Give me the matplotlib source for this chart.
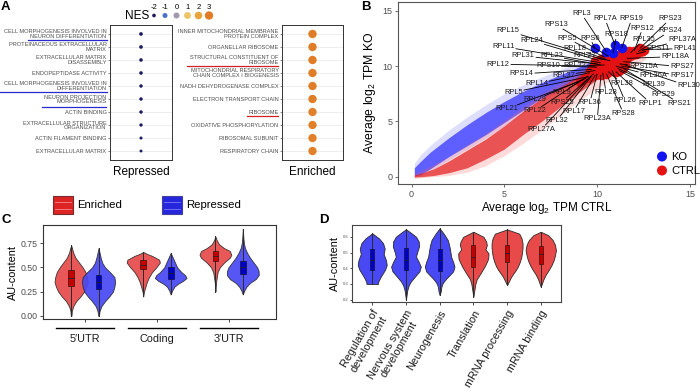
import numpy as np
import matplotlib
matplotlib.use('Agg')
import matplotlib.pyplot as plt
import matplotlib.transforms as mtransforms
from matplotlib.colors import LinearSegmentedColormap
from matplotlib.patches import Rectangle

plt.rcParams['font.family'] = ['Liberation Sans', 'DejaVu Sans']
plt.rcParams['mathtext.fontset'] = 'custom'
plt.rcParams['mathtext.rm'] = 'Liberation Sans'
plt.rcParams['mathtext.it'] = 'Liberation Sans:italic'
plt.rcParams['mathtext.bf'] = 'Liberation Sans:bold'

# ---------------- DATA ----------------
# Panel A
rep_terms = ["CELL MORPHOGENESIS INVOLVED IN\nNEURON DIFFERENTIATION",
             "PROTEINACEOUS EXTRACELLULAR\nMATRIX",
             "EXTRACELLULAR MATRIX\nDISASSEMBLY",
             "ENDOPEPTIDASE ACTIVITY",
             "CELL MORPHOGENESIS INVOLVED IN\nDIFFERENTIATION",
             "NEURON PROJECTION\nMORPHOGENESIS",
             "ACTIN BINDING",
             "EXTRACELLULAR STRUCTURE\nORGANIZATION",
             "ACTIN FILAMENT BINDING",
             "EXTRACELLULAR MATRIX"]
rep_nes = [-2.0, -2.0, -2.05, -2.05, -2.1, -2.1, -2.1, -2.15, -2.3, -2.35]
enr_terms = ["INNER MITOCHONDRIAL MEMBRANE\nPROTEIN COMPLEX",
             "ORGANELLAR RIBOSOME",
             "STRUCTURAL CONSTITUENT OF\nRIBOSOME",
             "MITOCHONDRIAL RESPIRATORY\nCHAIN COMPLEX I BIOGENESIS",
             "NADH DEHYDROGENASE COMPLEX",
             "ELECTRON TRANSPORT CHAIN",
             "RIBOSOME",
             "OXIDATIVE PHOSPHORYLATION",
             "RIBOSOMAL SUBUNIT",
             "RESPIRATORY CHAIN"]
enr_nes = [3.0, 3.0, 3.0, 2.95, 2.95, 2.95, 2.9, 2.9, 2.9, 2.9]
nes_legend = [-2, -1, 0, 1, 2, 3]
nes_colors = ['#1d1d5e', '#4a70c8', '#a29aaa', '#edc463', '#eaa43c', '#e07c26']

# Panel B: density bands of the scatter clouds
ko_x       = [0.15, 0.5, 1.0, 2.0, 3.0, 4.0, 5.0, 6.0, 7.0, 8.0, 9.0, 10.0, 10.6]
ko_core_lo = [0.05, 0.2, 0.7, 1.8, 2.8, 3.8, 4.9, 6.0, 7.1, 8.0, 8.9, 9.7, 10.2]
ko_core_hi = [0.8, 1.4, 2.2, 3.5, 4.7, 5.8, 6.8, 7.7, 8.5, 9.2, 9.9, 10.6, 10.9]
ko_halo_lo = [0.0, 0.1, 0.5, 1.5, 2.5, 3.5, 4.6, 5.7, 6.8, 7.8, 8.7, 9.5, 10.0]
ko_halo_hi = [1.2, 2.0, 2.8, 4.2, 5.4, 6.5, 7.5, 8.3, 9.0, 9.7, 10.3, 10.9, 11.1]
ct_x       = [0.15, 0.6, 1.2, 2.0, 3.0, 4.0, 5.0, 6.0, 7.0, 8.0, 9.0, 10.0, 11.0, 12.0, 12.6]
ct_core_lo = [-0.05, 0.0, 0.1, 0.35, 0.8, 1.6, 2.5, 3.8, 5.0, 6.3, 7.6, 8.8, 9.8, 10.6, 11.0]
ct_core_hi = [0.15, 0.35, 0.7, 1.4, 2.4, 3.4, 4.6, 5.9, 7.1, 8.1, 9.1, 10.0, 10.7, 11.3, 11.5]
ct_halo_lo = [-0.15, -0.1, 0.0, 0.1, 0.4, 1.0, 1.9, 3.0, 4.2, 5.5, 6.8, 8.0, 9.0, 10.0, 10.6]
ct_halo_hi = [0.3, 0.6, 1.1, 1.8, 2.9, 3.9, 5.1, 6.3, 7.5, 8.5, 9.5, 10.4, 11.0, 11.6, 11.8]

# Panel B: labelled ribosomal genes
genes = ["RPL3", "RPL7A", "RPS19", "RPS18", "RPS6", "RPS23", "RPS13", "RPS12", "RPS24",
         "RPL15", "RPS5", "RPL24", "RPL35", "RPL37A", "RPL11", "RPL18", "RPS11", "RPL41",
         "RPL27", "RPL31", "RPL23", "RPL18A", "RPL12", "RPS10", "RPL22", "RPS27", "RPS15A",
         "RPS14", "RPL37", "RPS17", "RPL36A", "RPL14", "RPL30", "RPL39", "RPL38", "RPL5",
         "RPL9", "RPL28", "RPS29", "RPL29", "RPS25", "RPL36", "RPL26", "RPLP1", "RPS21",
         "RPL21", "RPL22", "RPL17", "RPS28", "RPL32", "RPL23A", "RPL27A"]
gene_group = ["KO"] * 5 + ["CTRL"] * 47
gene_x = [10.5, 10.96, 11.32, 10.85, 9.88, 12.3, 10.6, 12.0, 12.2,
          10.3, 10.4, 10.1, 11.8, 12.4, 10.2, 10.5, 12.1, 12.5,
          10.7, 10.0, 10.2, 11.6, 9.9, 10.0, 10.4, 11.4, 11.2,
          9.7, 9.9, 11.3, 11.0, 9.6, 11.5, 11.1, 10.6, 9.55,
          9.07, 10.3, 11.2, 9.4, 9.8, 10.0, 10.8, 11.0, 11.4,
          9.3, 9.5, 9.9, 10.5, 9.7, 10.2, 9.6]
gene_y = [11.3, 11.92, 11.62, 11.17, 11.62, 11.6, 10.9, 11.4, 11.3,
          10.6, 10.8, 10.5, 11.2, 11.4, 10.3, 10.6, 11.1, 11.5,
          10.5, 10.2, 10.1, 10.7, 10.0, 9.9, 10.1, 10.4, 10.2,
          9.7, 9.6, 10.0, 10.0, 9.4, 10.1, 9.8, 9.5, 9.05,
          8.6, 9.4, 9.6, 8.9, 9.3, 9.3, 9.6, 9.5, 9.8,
          8.8, 9.1, 9.2, 9.3, 9.1, 9.2, 9.0]
label_x = [9.16, 10.42, 11.86, 11.05, 9.61, 13.93, 7.78, 12.45, 13.93,
           5.21, 8.36, 6.47, 12.49, 14.56, 4.94, 8.8, 13.3, 14.73,
           9.34, 6.02, 7.55, 14.2, 4.67, 7.37, 8.8, 14.56, 12.49,
           5.93, 8.18, 14.56, 13.03, 6.74, 14.91, 13.03, 11.32, 5.48,
           8.09, 10.48, 13.57, 6.65, 8.09, 9.61, 11.5, 12.88, 14.43,
           5.12, 6.65, 8.72, 11.41, 7.82, 10.01, 7.0]
label_y = [14.72, 14.27, 14.27, 12.82, 12.52, 14.27, 13.73, 13.42, 13.18,
           13.18, 12.52, 12.31, 12.37, 12.37, 11.76, 11.61, 11.61, 11.58,
           10.92, 10.92, 10.92, 10.86, 10.17, 10.02, 10.02, 9.95, 9.95,
           9.29, 9.17, 9.11, 9.11, 8.39, 8.2, 8.3, 8.45, 7.63,
           7.63, 7.6, 7.39, 6.94, 6.73, 6.73, 6.85, 6.64, 6.64,
           6.12, 5.94, 5.88, 5.73, 5.07, 5.22, 4.28]
# further (unlabelled) ribosomal genes forming the CTRL blob
blob_x = [9.6, 9.8, 10.0, 10.2, 10.4, 10.6, 10.8, 11.0, 11.2, 11.4, 11.6, 11.8, 12.0, 12.2,
          10.3, 10.7, 11.1, 11.5, 9.9, 10.5, 10.9, 11.3, 11.7, 12.1, 9.52, 10.1]
blob_y = [9.6, 9.9, 10.3, 10.6, 10.4, 10.2, 10.5, 10.8, 10.6, 10.9, 11.1, 11.0, 11.3, 11.5,
          9.8, 10.0, 10.3, 10.6, 10.5, 10.7, 10.9, 11.2, 11.4, 11.2, 9.05, 9.5]

# Panel C: violin profiles (AU-content level, half width) per region
c_regions = ["5\u2032UTR", "Coding", "3\u2032UTR"]
c_enr_y = [[0.00, 0.05, 0.10, 0.15, 0.20, 0.25, 0.30, 0.35, 0.40, 0.45, 0.50, 0.55, 0.60, 0.65, 0.70, 0.73],
           [0.20, 0.25, 0.30, 0.35, 0.40, 0.45, 0.50, 0.55, 0.58, 0.62, 0.64, 0.66],
           [0.25, 0.30, 0.35, 0.40, 0.45, 0.50, 0.55, 0.60, 0.63, 0.67, 0.70, 0.74, 0.78, 0.82]]
c_enr_w = [[0.005, 0.01, 0.03, 0.07, 0.13, 0.18, 0.21, 0.23, 0.22, 0.20, 0.16, 0.11, 0.06, 0.03, 0.012, 0.0],
           [0.0, 0.01, 0.03, 0.05, 0.08, 0.12, 0.18, 0.23, 0.22, 0.12, 0.05, 0.0],
           [0.0, 0.005, 0.01, 0.02, 0.03, 0.06, 0.12, 0.20, 0.22, 0.20, 0.12, 0.05, 0.02, 0.0]]
c_rep_y = [[0.00, 0.05, 0.10, 0.15, 0.20, 0.25, 0.30, 0.35, 0.40, 0.45, 0.50, 0.55, 0.60, 0.65, 0.70],
           [0.22, 0.26, 0.30, 0.33, 0.36, 0.39, 0.42, 0.45, 0.50, 0.55, 0.60, 0.65],
           [0.22, 0.26, 0.30, 0.34, 0.38, 0.42, 0.46, 0.50, 0.55, 0.60, 0.65, 0.70, 0.75, 0.80, 0.85, 0.90]]
c_rep_w = [[0.005, 0.015, 0.04, 0.09, 0.15, 0.20, 0.22, 0.23, 0.22, 0.16, 0.09, 0.05, 0.03, 0.015, 0.0],
           [0.0, 0.02, 0.05, 0.10, 0.17, 0.22, 0.20, 0.15, 0.09, 0.06, 0.03, 0.0],
           [0.0, 0.02, 0.05, 0.10, 0.18, 0.22, 0.22, 0.20, 0.15, 0.10, 0.06, 0.03, 0.015, 0.008, 0.004, 0.0]]
c_enr_box = [(0.31, 0.39, 0.47), (0.48, 0.53, 0.58), (0.57, 0.62, 0.67)]
c_rep_box = [(0.28, 0.35, 0.42), (0.38, 0.44, 0.50), (0.43, 0.50, 0.57)]

# Panel D
d_terms = ["Regulation of\ndevelopment", "Nervous system\ndevelopment", "Neurogenesis",
           "Translation", "mRNA processing", "mRNA binding"]
d_group = ["Repressed", "Repressed", "Repressed", "Enriched", "Enriched", "Enriched"]
d_y = [[0.30, 0.315, 0.345, 0.39, 0.42, 0.45, 0.49, 0.525, 0.56, 0.59, 0.622],
       [0.197, 0.23, 0.26, 0.29, 0.314, 0.35, 0.38, 0.41, 0.44, 0.473, 0.50, 0.54, 0.57, 0.60, 0.625, 0.648],
       [0.228, 0.25, 0.28, 0.30, 0.314, 0.335, 0.357, 0.38, 0.41, 0.44, 0.473, 0.516, 0.55, 0.58, 0.62, 0.654],
       [0.217, 0.26, 0.30, 0.33, 0.37, 0.41, 0.44, 0.462, 0.494, 0.52, 0.547, 0.57, 0.60, 0.632],
       [0.292, 0.31, 0.345, 0.37, 0.388, 0.41, 0.441, 0.47, 0.494, 0.53, 0.558, 0.59, 0.62, 0.647],
       [0.281, 0.30, 0.33, 0.36, 0.39, 0.42, 0.45, 0.48, 0.515, 0.55, 0.58, 0.61, 0.632]]
d_w = [[0.17, 0.18, 0.25, 0.38, 0.43, 0.41, 0.34, 0.37, 0.32, 0.20, 0.0],
       [0.0, 0.02, 0.04, 0.08, 0.14, 0.28, 0.40, 0.44, 0.38, 0.30, 0.33, 0.39, 0.38, 0.30, 0.15, 0.0],
       [0.0, 0.03, 0.05, 0.08, 0.12, 0.20, 0.30, 0.40, 0.44, 0.40, 0.34, 0.31, 0.28, 0.24, 0.12, 0.0],
       [0.0, 0.03, 0.06, 0.10, 0.22, 0.33, 0.40, 0.44, 0.45, 0.36, 0.40, 0.38, 0.30, 0.0],
       [0.0, 0.04, 0.12, 0.20, 0.26, 0.32, 0.38, 0.42, 0.44, 0.46, 0.46, 0.43, 0.36, 0.0],
       [0.0, 0.03, 0.08, 0.15, 0.24, 0.32, 0.38, 0.42, 0.45, 0.42, 0.35, 0.22, 0.0]]
d_box = [(0.39, 0.45, 0.52), (0.39, 0.45, 0.53), (0.38, 0.45, 0.52),
         (0.41, 0.47, 0.547), (0.44, 0.50, 0.55), (0.43, 0.49, 0.54)]

# ---------------- STYLE ----------------
RED_V, BLUE_V = '#e84a4a', '#4848f4'
RED_BOX, BLUE_BOX = '#c40000', '#0000c0'
GREY_TXT = '#4d4d4d'
W, H = 700, 392
fig = plt.figure(figsize=(7, 3.92), dpi=100)


def px_axes(x0, y0, x1, y1):
    return fig.add_axes([x0 / W, 1 - y1 / H, (x1 - x0) / W, (y1 - y0) / H])


def style_spines(ax, color='#333333', lw=0.8):
    for s in ax.spines.values():
        s.set_color(color)
        s.set_linewidth(lw)


nes_cmap = LinearSegmentedColormap.from_list(
    'nes', [((v + 2) / 5, c) for v, c in zip(nes_legend, nes_colors)])


def nes_size(v):
    d = np.interp(v, [-2.5, -2, -1, 0, 1, 2, 3], [2.6, 3.7, 5.0, 6.0, 6.8, 7.6, 8.4])
    return (d * 0.72) ** 2


def nes_color(v):
    return nes_cmap((np.asarray(v) + 2) / 5)


# ---------------- PANEL A ----------------
for (x0, x1, terms, nes, xl) in [(110, 172, rep_terms, rep_nes, 'Repressed'),
                                 (282, 343, enr_terms, enr_nes, 'Enriched')]:
    ax = px_axes(x0, 25, x1, 160)
    rows = np.arange(1, len(terms) + 1)
    ax.scatter(np.ones(len(rows)), rows, s=nes_size(nes), c=nes_color(nes),
               linewidths=0, zorder=3)
    ax.set_xlim(0.4, 1.6)
    ax.set_ylim(10.69, 0.31)
    ax.set_yticks(rows)
    ax.set_yticklabels(terms, fontsize=4.1, color=GREY_TXT, linespacing=0.92)
    ax.set_xticks([1])
    ax.set_xticklabels([xl], fontsize=8.5, color='black')
    ax.grid(axis='y', color='#e6e6e6', lw=0.5)
    ax.set_axisbelow(True)
    ax.tick_params(axis='y', length=1.5, width=0.4, color='#333333', pad=1)
    ax.tick_params(axis='x', length=0, pad=4)
    style_spines(ax, '#333333', 0.7)

# ---------------- PANEL B ----------------
axb = px_axes(398, 2, 695, 184)
axb.fill_between(ko_x, ko_halo_lo, ko_halo_hi, color='#6a6aff', alpha=0.22, lw=0, zorder=1)
axb.fill_between(ko_x, ko_core_lo, ko_core_hi, color='#2a2aff', alpha=0.7, lw=0, zorder=1)
axb.fill_between(ct_x, ct_halo_lo, ct_halo_hi, color='#ff5a5a', alpha=0.22, lw=0, zorder=2)
axb.fill_between(ct_x, ct_core_lo, ct_core_hi, color='#e21a1a', alpha=0.7, lw=0, zorder=2)
gx = np.array(gene_x)
gy = np.array(gene_y)
grp = np.array(gene_group)
axb.scatter(blob_x, blob_y, s=48, c='#e41212', linewidths=0, zorder=3)
axb.scatter(gx[grp == 'CTRL'], gy[grp == 'CTRL'], s=48, c='#e41212', linewidths=0, zorder=3)
axb.scatter(gx[grp == 'KO'], gy[grp == 'KO'], s=48, c='#1414f0', linewidths=0, zorder=4)
axb.set_xlim(-0.73, 15.27)
axb.set_ylim(-0.67, 15.8)
label_texts = []
for name, lx, ly in zip(genes, label_x, label_y):
    label_texts.append(axb.text(lx, ly, name, fontsize=5.4, color='#1a1a1a',
                                ha='center', va='center', zorder=6))
axb.set_xticks([0, 5, 10, 15])
axb.set_yticks([0, 5, 10, 15])
axb.tick_params(labelsize=6.5, labelcolor=GREY_TXT, length=2, width=0.5, color='#333333', pad=2)
axb.set_xlabel(r'Average log$_\mathregular{2}$ TPM CTRL', fontsize=8.5, labelpad=1)
axb.set_ylabel(r'Average log$_\mathregular{2}$ TPM KO', fontsize=8.8, labelpad=3)
style_spines(axb, '#555555', 0.8)

# leader segments: from the label's box edge to its point (computed with the renderer)
fig.canvas.draw()
renderer = fig.canvas.get_renderer()
inv = axb.transData.inverted()
for t, x, y, lx, ly in zip(label_texts, gene_x, gene_y, label_x, label_y):
    bb = t.get_window_extent(renderer)
    p0 = axb.transData.transform((lx, ly))
    p1 = axb.transData.transform((x, y))
    d = p1 - p0
    hw = bb.width / 2 + 1.0
    hh = bb.height / 2 + 0.5
    sx = hw / abs(d[0]) if abs(d[0]) > 1e-9 else np.inf
    sy = hh / abs(d[1]) if abs(d[1]) > 1e-9 else np.inf
    s = min(sx, sy)
    if s >= 1:
        continue
    start = inv.transform(p0 + d * s)
    axb.plot([start[0], x], [start[1], y], color='black', lw=0.6, zorder=5,
             solid_capstyle='butt')

# ---------------- PANEL C ----------------
axc = px_axes(43, 225, 276, 319)
dodge = 0.19


def draw_violin(ax, c, ys, ws, face, boxc, box, boxw, alpha=1.0, z=2):
    ys = np.asarray(ys)
    ws = np.asarray(ws)
    ax.fill_betweenx(ys, c - ws, c + ws, facecolor=face, edgecolor='#2a2a2a',
                     lw=0.6, alpha=alpha, zorder=z)
    ax.plot([c, c], [ys.min(), ys.max()], color='#2a2a2a', lw=0.7, zorder=z + 0.1)
    q1, med, q3 = box
    ax.add_patch(Rectangle((c - boxw / 2, q1), boxw, q3 - q1, facecolor=boxc,
                           edgecolor='#3a1010' if boxc == RED_BOX else '#101040',
                           lw=0.5, zorder=z + 0.2))
    ax.plot([c - boxw / 2, c + boxw / 2], [med, med], color='#222222', lw=0.6, zorder=z + 0.3)


for i in range(3):
    g = i + 1
    draw_violin(axc, g - dodge, c_enr_y[i], c_enr_w[i], RED_V, RED_BOX, c_enr_box[i], 0.08, 0.92, 2)
    draw_violin(axc, g + dodge, c_rep_y[i], c_rep_w[i], BLUE_V, BLUE_BOX, c_rep_box[i], 0.08, 0.92, 3)
axc.set_xlim(0.42, 3.65)
axc.set_ylim(-0.034, 0.939)
axc.set_yticks([0, 0.25, 0.5, 0.75])
axc.set_yticklabels(['0.00', '0.25', '0.50', '0.75'])
axc.set_xticks([1, 2, 3])
axc.set_xticklabels(c_regions, fontsize=7.8, color='#1a1a1a')
axc.tick_params(axis='y', labelsize=6.3, labelcolor=GREY_TXT, length=2, width=0.5, pad=2)
axc.tick_params(axis='x', length=2.5, width=0.5, pad=8)
axc.set_ylabel('AU-content', fontsize=7.8, labelpad=2)
trans = mtransforms.blended_transform_factory(axc.transData, axc.transAxes)
for g in [1, 2, 3]:
    axc.plot([g - 0.4, g + 0.4], [-0.096, -0.096], color='black', lw=1.0,
             transform=trans, clip_on=False)
style_spines(axc, '#333333', 0.8)

# ---------------- PANEL D ----------------
axd = px_axes(352, 225, 561, 302)
for i in range(len(d_terms)):
    red = d_group[i] == 'Enriched'
    draw_violin(axd, i, d_y[i], d_w[i], RED_V if red else BLUE_V,
                RED_BOX if red else BLUE_BOX, d_box[i], 0.12, 1.0, 2)
axd.set_xlim(-0.6, 5.6)
axd.set_ylim(0.185, 0.675)
axd.set_yticks([0.2, 0.3, 0.4, 0.5, 0.6])
axd.set_xticks(range(len(d_terms)))
axd.set_xticklabels(d_terms, rotation=60, ha='right', rotation_mode='anchor',
                    fontsize=7.8, color='#1a1a1a', multialignment='center', linespacing=1.0)
axd.tick_params(axis='y', labelsize=3.0, labelcolor=GREY_TXT, length=1.5, width=0.5, pad=1)
axd.tick_params(axis='x', length=2.5, width=0.5, pad=2)
axd.set_ylabel('AU-content', fontsize=7.8, labelpad=2)
style_spines(axd, '#444444', 0.8)

# ---------------- OVERLAY: letters, legends, underlines ----------------
ov = fig.add_axes([0, 0, 1, 1])
ov.set_xlim(0, W)
ov.set_ylim(H, 0)
ov.axis('off')
ov.patch.set_alpha(0)

for lab, (x, y) in zip('ABCD', [(1, 1), (361, 1), (2, 214), (319, 214)]):
    ov.text(x, y, lab, fontsize=9.5, fontweight='bold', ha='left', va='top')

# NES legend
ov.text(137, 15.5, 'NES', fontsize=8.5, ha='center', va='center')
nes_lx = [154, 165, 176.5, 187.5, 198.5, 209]
ov.scatter(nes_lx, [15.5] * 6, s=nes_size(np.array(nes_legend)),
           c=nes_color(nes_legend), linewidths=0)
for x, v in zip(nes_lx, nes_legend):
    ov.text(x, 7.5, str(v), fontsize=5.5, ha='center', va='center')

# underlines in panel A
for x0, x1, y, col in [(28, 107, 40.3, '#2a2ad0'), (0, 107, 91.8, '#2a2ad0'),
                       (42, 106, 106.8, '#2a2ad0'), (187, 278, 65.8, '#d02020'),
                       (247, 278, 116.3, '#d02020')]:
    ov.plot([x0, x1], [y, y], color=col, lw=0.9)

# Legend of panel C
for x0, face, edge, txt in [(53, '#dd2424', '#7a2a2a', 'Enriched'),
                            (162, '#2626dc', '#4040a0', 'Repressed')]:
    ov.add_patch(Rectangle((x0, 196), 20, 18, facecolor=face, edgecolor=edge, lw=0.8))
    for yy in (201.5, 208.5):
        ov.plot([x0 + 2, x0 + 18], [yy, yy], color='#ff9a9a' if 'Enr' in txt else '#8a8aff', lw=0.5)
    ov.text(x0 + 24, 205, txt, fontsize=8.2, ha='left', va='center')

# Legend of panel B
ov.scatter([662, 662], [156.5, 170.5], s=[52, 52], c=['#1414f0', '#e41212'], linewidths=0)
ov.text(671, 156.5, 'KO', fontsize=8, ha='left', va='center')
ov.text(671, 170.5, 'CTRL', fontsize=8, ha='left', va='center')

fig.savefig('out.png', dpi=100)
